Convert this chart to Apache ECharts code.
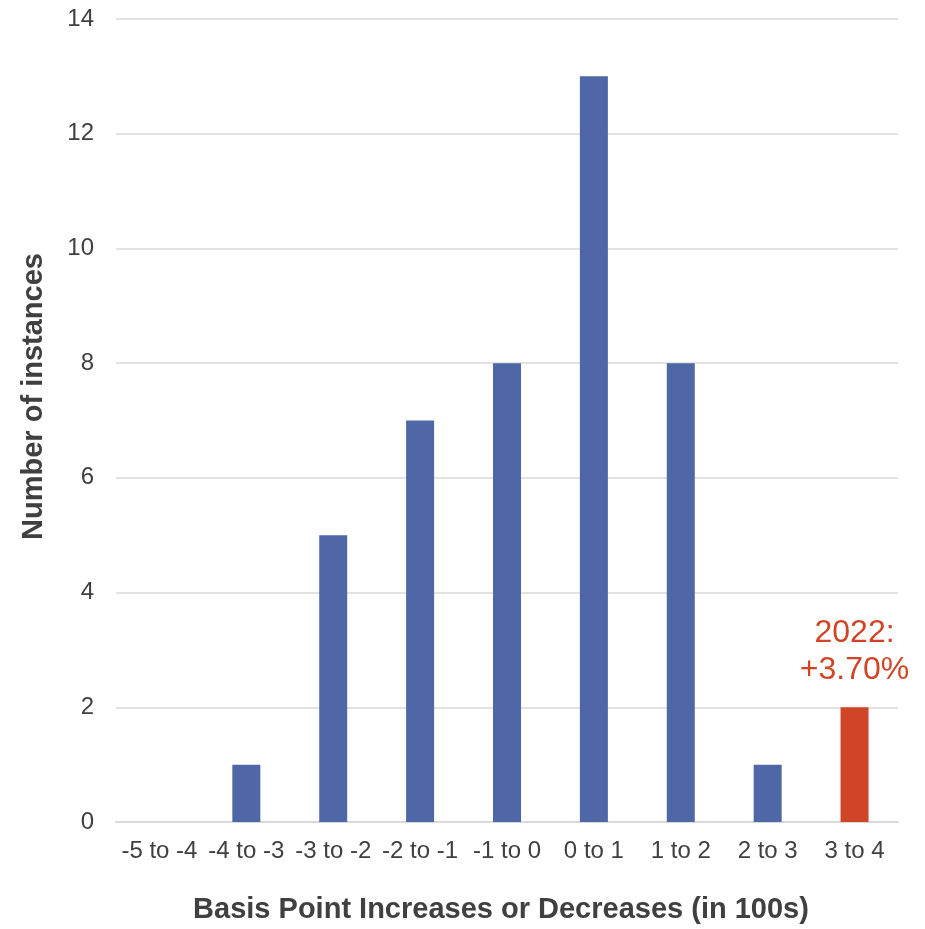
<!DOCTYPE html>
<html>
<head>
<meta charset="utf-8">
<script src="https://cdn.jsdelivr.net/npm/echarts@6/dist/echarts.min.js"></script>
<style>
  html, body { margin: 0; padding: 0; background: #ffffff; }
  #chart { width: 925px; height: 929px; }
</style>
</head>
<body>
<div id="chart"></div>
<script>
// Histogram of yearly basis-point moves, grouped in 100s
const categories = ['-5 to -4', '-4 to -3', '-3 to -2', '-2 to -1', '-1 to 0', '0 to 1', '1 to 2', '2 to 3', '3 to 4'];
const instances = [0, 1, 5, 7, 8, 13, 8, 1, 2];
const highlightIndex = 8;            // bucket containing the 2022 move
const highlightLabel = '2022:\n+3.70%';
const yTicks = { min: 0, max: 14, interval: 2 };

const blue = '#4f67a6';
const red = '#d04526';
const textColor = '#404040';
const font = 'Liberation Sans, Arial, sans-serif';

const seriesData = instances.map((v, i) => {
  if (i !== highlightIndex) return { value: v };
  return {
    value: v,
    itemStyle: { color: red },
    label: {
      show: true,
      position: 'top',
      distance: 19,
      formatter: highlightLabel,
      color: red,
      fontSize: 32,
      lineHeight: 37,
      fontFamily: font,
      align: 'center'
    }
  };
});

const chart = echarts.init(document.getElementById('chart'), null, { renderer: 'canvas' });
chart.setOption({
  animation: false,
  backgroundColor: '#ffffff',
  grid: { left: 116, right: 27, top: 19, bottom: 106, containLabel: false },
  xAxis: {
    type: 'category',
    data: categories,
    axisLine: { show: true, lineStyle: { color: '#d9d9d9', width: 2 } },
    axisTick: { show: false },
    axisLabel: {
      color: textColor,
      fontSize: 24,
      fontFamily: font,
      margin: 17,
      interval: 0
    },
    name: 'Basis Point Increases or Decreases (in 100s)',
    nameLocation: 'middle',
    nameGap: 73,
    nameTextStyle: {
      color: textColor,
      fontSize: 29,
      fontWeight: 'bold',
      fontFamily: font,
      padding: [0, 12, 0, 0]
    }
  },
  yAxis: {
    type: 'value',
    min: yTicks.min,
    max: yTicks.max,
    interval: yTicks.interval,
    axisLine: { show: false },
    axisTick: { show: false },
    splitLine: { lineStyle: { color: '#d9d9d9', width: 1.5 } },
    axisLabel: {
      color: textColor,
      fontSize: 24,
      fontFamily: font,
      margin: 22
    },
    name: 'Number of instances',
    nameLocation: 'middle',
    nameGap: 68,
    nameRotate: 90,
    nameTextStyle: {
      color: textColor,
      fontSize: 29,
      fontWeight: 'bold',
      fontFamily: font,
      padding: [0, 0, 0, 48]
    }
  },
  series: [{
    type: 'bar',
    data: seriesData,
    barWidth: 28,
    itemStyle: { color: blue },
    label: { show: false }
  }]
});
</script>
</body>
</html>
